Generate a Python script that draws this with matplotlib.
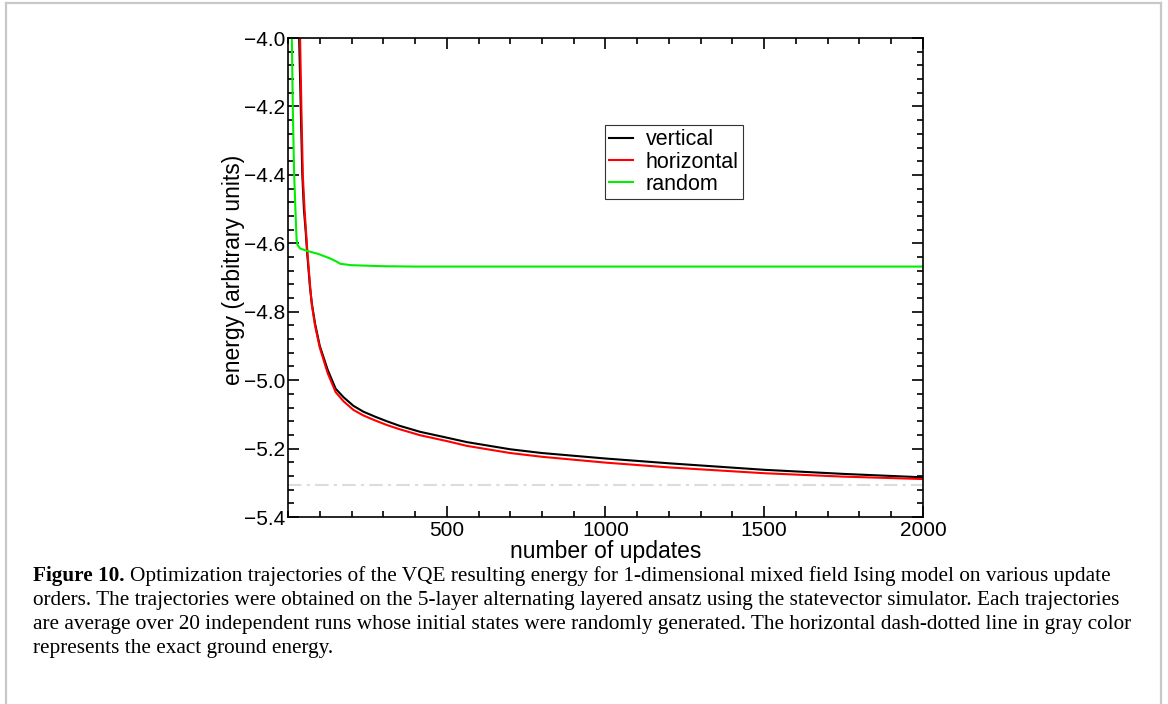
import numpy as np
import matplotlib.pyplot as plt
from matplotlib.ticker import MultipleLocator
from matplotlib.lines import Line2D

# trajectories (number of updates, energy)
x_vert = [10, 20, 30, 35, 40, 45, 50, 56, 60, 69, 75, 85, 100, 125, 150, 175, 206, 237, 275,
          311, 350, 416, 500, 563, 700, 800, 1000, 1200, 1500, 1750, 2000]
e_vert = [-2.5, -3.2, -3.75, -4.0, -4.2, -4.4, -4.5, -4.57, -4.625, -4.727, -4.776, -4.834, -4.9,
          -4.97, -5.025, -5.05, -5.075, -5.092, -5.107, -5.12, -5.133, -5.151, -5.168, -5.181,
          -5.202, -5.213, -5.229, -5.243, -5.262, -5.274, -5.284]

x_horz = [10, 20, 30, 38, 42, 46.5, 52, 57, 61, 70, 75, 85, 100, 125, 150, 175, 206, 237, 275,
          311, 350, 416, 500, 563, 700, 800, 1000, 1200, 1500, 1750, 2000]
e_horz = [-2.4, -3.1, -3.65, -4.0, -4.2, -4.4, -4.5, -4.57, -4.625, -4.73, -4.78, -4.84, -4.905,
          -4.98, -5.035, -5.062, -5.087, -5.103, -5.118, -5.131, -5.143, -5.161, -5.178, -5.192,
          -5.213, -5.224, -5.241, -5.255, -5.272, -5.282, -5.289]

x_rand = [0, 10, 12, 15, 19, 24, 27, 30, 38, 59, 95, 132, 150, 165, 200, 300, 400, 2000]
e_rand = [-3.5, -3.95, -4.0, -4.2, -4.39, -4.52, -4.59, -4.605, -4.615, -4.622, -4.631, -4.644,
          -4.652, -4.66, -4.664, -4.667, -4.668, -4.668]

e_exact = -5.307

caption_lines = [
    "Optimization trajectories of the VQE resulting energy for 1-dimensional mixed field Ising model on various update",
    "orders. The trajectories were obtained on the 5-layer alternating layered ansatz using the statevector simulator. Each trajectories",
    "are average over 20 independent runs whose initial states were randomly generated. The horizontal dash-dotted line in gray color",
    "represents the exact ground energy.",
]

plt.rcParams['font.family'] = 'Liberation Sans'

fig = plt.figure(figsize=(11.68, 7.04), dpi=100)
ax = fig.add_axes([0.2466, 0.2656, 0.5436, 0.6804])

ax.plot([0, 2000], [e_exact, e_exact], color='#dcdcdc', lw=1.5, ls=(0, (6.5, 2.5, 1.5, 2.5)))
ax.plot(x_vert, e_vert, color='black', lw=1.5, label='vertical')
ax.plot(x_horz, e_horz, color='red', lw=1.5, label='horizontal')
ax.plot(x_rand, e_rand, color='#00ee00', lw=1.5, label='random')

ax.set_xlim(0, 2000)
ax.set_ylim(-5.4, -4.0)
ax.xaxis.set_minor_locator(MultipleLocator(100))
ax.yaxis.set_minor_locator(MultipleLocator(0.04))
ax.set_xticks([500, 1000, 1500, 2000])
yt = np.round(np.arange(-5.4, -3.99, 0.2), 1)
ax.set_yticks(yt)
ax.set_yticklabels(['\u2212%.1f' % abs(v) for v in yt])
ax.tick_params(which='both', direction='in', top=True, right=True, width=1.2, labelsize=15)
ax.tick_params(which='major', length=8)
ax.tick_params(which='minor', length=4)
ax.tick_params(axis='x', pad=3)
ax.tick_params(axis='y', pad=2)
for s in ax.spines.values():
    s.set_linewidth(1.2)

ax.set_xlabel('number of updates', fontsize=16.5)
ax.xaxis.set_label_coords(0.5, -0.047)
ax.set_ylabel('energy (arbitrary units)', fontsize=16.5)
ax.yaxis.set_label_coords(-0.068, 0.516)

leg = ax.legend(loc='upper left', bbox_to_anchor=(0.499, 0.818), borderaxespad=0,
                fontsize=15.5, fancybox=False, framealpha=1, edgecolor='#333333',
                handlelength=1.1, handletextpad=0.6, labelspacing=0.05, borderpad=0.2)
leg.get_frame().set_linewidth(0.8)

# outer frame of the figure panel
fr = dict(color='#c8c8c8', lw=1.6, transform=fig.transFigure)
fig.add_artist(Line2D([6 / 1168, 6 / 1168], [0, 1 - 3 / 704], **fr))
fig.add_artist(Line2D([6 / 1168, 1161 / 1168], [1 - 3 / 704, 1 - 3 / 704], **fr))
fig.add_artist(Line2D([1161 / 1168, 1161 / 1168], [0, 1 - 3 / 704], **fr))

# caption
cap_font = 'Liberation Serif'
cap_size = 15.3
y0 = 1 - 581 / 704
dy = 24 / 704
bold = fig.text(33 / 1168, y0, 'Figure 10.', fontsize=cap_size, fontweight='bold',
                family=cap_font, va='baseline')
fig.canvas.draw()
bb = bold.get_window_extent()
fig.text(bb.x1 / fig.bbox.width + 5 / 1168, y0, caption_lines[0], fontsize=cap_size,
         family=cap_font, va='baseline')
for i, line in enumerate(caption_lines[1:], start=1):
    fig.text(33 / 1168, y0 - i * dy, line, fontsize=cap_size, family=cap_font, va='baseline')

fig.savefig('out.png', dpi=100)
